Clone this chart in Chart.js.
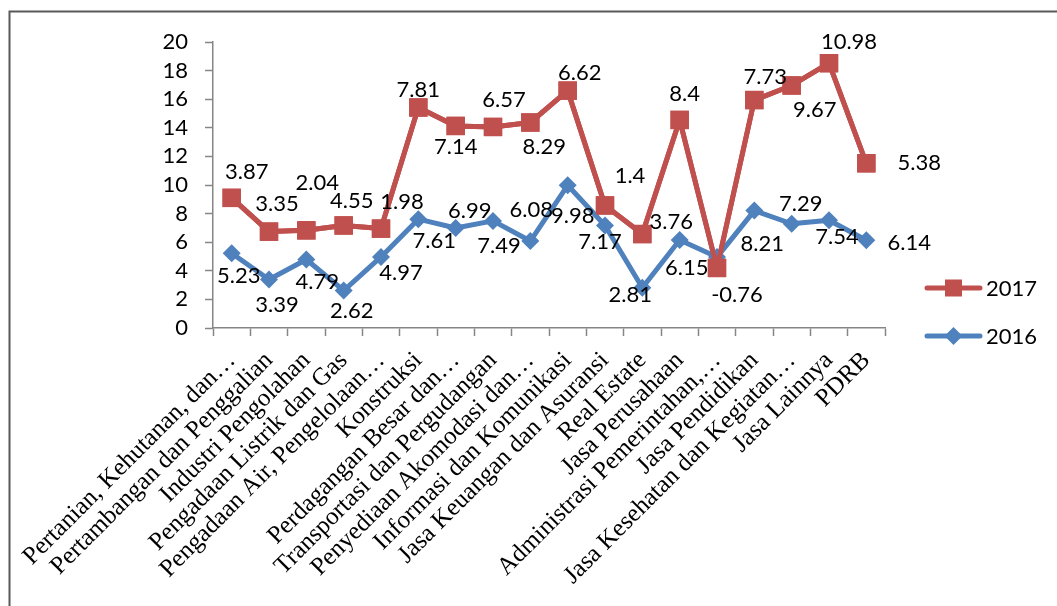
<!DOCTYPE html>
<html lang="id">
<head>
<meta charset="UTF-8">
<title>Laju Pertumbuhan PDRB 2016 - 2017</title>
<style>
  html, body { margin: 0; padding: 0; background: #fff; }
</style>
</head>
<body>
<canvas id="chart" width="1057" height="606"></canvas>

<script src="https://cdn.jsdelivr.net/npm/chart.js"></script>
<script>
  // data
  const categories = [
    "Pertanian, Kehutanan, dan…",
    "Pertambangan dan Penggalian",
    "Industri Pengolahan",
    "Pengadaan Listrik dan Gas",
    "Pengadaan Air, Pengelolaan…",
    "Konstruksi",
    "Perdagangan Besar dan…",
    "Transportasi dan Pergudangan",
    "Penyediaan Akomodasi dan…",
    "Informasi dan Komunikasi",
    "Jasa Keuangan dan Asuransi",
    "Real Estate",
    "Jasa Perusahaan",
    "Administrasi Pemerintahan,…",
    "Jasa Pendidikan",
    "Jasa Kesehatan dan Kegiatan…",
    "Jasa Lainnya",
    "PDRB"
  ];
  const growth2016 = [5.23, 3.39, 4.79, 2.62, 4.97, 7.61, 6.99, 7.49, 6.08, 9.98, 7.17, 2.81, 6.15, 4.96, 8.21, 7.29, 7.54, 6.14];
  const growth2017 = [3.87, 3.35, 2.04, 4.55, 1.98, 7.81, 7.14, 6.57, 8.29, 6.62, 1.4, 3.76, 8.4, -0.76, 7.73, 9.67, 10.98, 5.38];
  const yMin = 0, yMax = 20, yStep = 2;

  // where each value label sits relative to its point (px)
  const offsets2016 = [[7,23],[8,25],[11,22],[8,20],[20,16],[16,22],[14,-17],[6,25],[1,-31],[5,31],[-5,16],[-12,7],[7,28],null,[8,33],[9,-20],[8,17],[43,3]];
  const offsets2017 = [[15,-26],[8,-28],[11,-47],[8,-25],[21,-27],[0,-18],[0,21],[11,-27],[14,24],[12,-18],[25,-30],[29,-12],[5,-26],[20,27],[11,-23],[23,24],[20,-21],[53,0]];

  const RED = "#C0504D";
  const BLUE = "#4F81BD";
  const AXIS = "#868686";
  const NUM_FONT = "Lato";

  // 2017 drawn over 2016 (like the original), then the value labels
  const valueLabels = {
    id: "valueLabels",
    afterDatasetsDraw(chart) {
      const ctx = chart.ctx;
      const area = chart.chartArea;
      ctx.save();
      ctx.beginPath();
      ctx.rect(area.left - 20, area.top - 20, area.width + 40, area.height + 40);
      ctx.clip();
      chart.getDatasetMeta(1).controller.draw();
      ctx.restore();

      ctx.save();
      ctx.font = "22px " + NUM_FONT;
      ctx.fillStyle = "#000";
      ctx.textAlign = "center";
      ctx.textBaseline = "middle";
      chart.data.datasets.forEach((ds, i) => {
        chart.getDatasetMeta(i).data.forEach((pt, j) => {
          const off = ds.labelOffsets[j];
          if (!off) return;
          ctx.fillText(String(ds.data[j]), pt.x + off[0], pt.y + off[1]);
        });
      });
      ctx.restore();
    }
  };

  // legend on the right (line + marker) and the outer frame
  const sideLegend = {
    id: "sideLegend",
    afterDraw(chart) {
      const ctx = chart.ctx;
      ctx.save();
      // frame, top and left only
      ctx.strokeStyle = "#595959";
      ctx.lineWidth = 2;
      ctx.beginPath();
      ctx.moveTo(1057, 11.5);
      ctx.lineTo(9.5, 11.5);
      ctx.lineTo(9.5, 606);
      ctx.stroke();

      const items = [
        { text: "2017", color: RED, style: "rect", y: 288 },
        { text: "2016", color: BLUE, style: "diamond", y: 336 }
      ];
      items.forEach(it => {
        ctx.strokeStyle = it.color;
        ctx.lineWidth = 5;
        ctx.lineCap = "round";
        ctx.beginPath();
        ctx.moveTo(927, it.y);
        ctx.lineTo(980, it.y);
        ctx.stroke();
        ctx.fillStyle = it.color;
        if (it.style === "rect") {
          ctx.fillRect(945, it.y - 8.5, 17, 17);
        } else {
          ctx.beginPath();
          ctx.moveTo(953.5, it.y - 9);
          ctx.lineTo(962.5, it.y);
          ctx.lineTo(953.5, it.y + 9);
          ctx.lineTo(944.5, it.y);
          ctx.closePath();
          ctx.fill();
        }
        ctx.fillStyle = "#000";
        ctx.font = "22px " + NUM_FONT;
        ctx.textAlign = "left";
        ctx.textBaseline = "middle";
        ctx.fillText(it.text, 986, it.y + 1);
      });
      ctx.restore();
    }
  };

  const ctx = document.getElementById("chart");
  const chart = new Chart(ctx, {
    type: "line",
    data: {
      labels: categories,
      datasets: [
        {
          label: "2016",
          data: growth2016,
          labelOffsets: offsets2016,
          borderColor: BLUE,
          backgroundColor: BLUE,
          borderWidth: 5,
          borderJoinStyle: "round",
          pointStyle: "rectRot",
          pointRadius: 9,
          pointBorderWidth: 0,
          fill: false,
          tension: 0
        },
        {
          label: "2017",
          data: growth2017,
          labelOffsets: offsets2017,
          borderColor: RED,
          backgroundColor: RED,
          borderWidth: 5,
          borderJoinStyle: "round",
          pointStyle: "rect",
          pointRadius: 13,
          pointBorderWidth: 0,
          fill: false,
          tension: 0
        }
      ]
    },
    options: {
      responsive: false,
      animation: false,
      layout: { padding: { left: 0, top: 42, right: 172, bottom: 0 } },
      plugins: {
        legend: { display: false },
        tooltip: { enabled: false }
      },
      scales: {
        x: {
          offset: true,
          grid: {
            offset: true,
            drawOnChartArea: false,
            drawTicks: true,
            tickLength: 8,
            tickColor: AXIS,
            tickWidth: 1.5
          },
          border: { color: AXIS, width: 1.5 },
          ticks: {
            autoSkip: false,
            maxRotation: 45,
            minRotation: 45,
            padding: 10,
            color: "#000",
            font: { family: "Liberation Serif", size: 25 }
          },
          afterFit(scale) { scale.height = 606 - 328; }
        },
        y: {
          stacked: "single",
          min: yMin,
          max: yMax,
          grid: {
            drawOnChartArea: false,
            drawTicks: true,
            tickLength: 8,
            tickColor: AXIS,
            tickWidth: 1.5
          },
          border: { color: AXIS, width: 1.5 },
          ticks: {
            stepSize: yStep,
            autoSkip: false,
            padding: 17,
            color: "#000",
            font: { family: NUM_FONT, size: 22 }
          },
          afterFit(scale) { scale.width = 213; }
        }
      }
    },
    plugins: [valueLabels, sideLegend]
  });
</script>
</body>
</html>
